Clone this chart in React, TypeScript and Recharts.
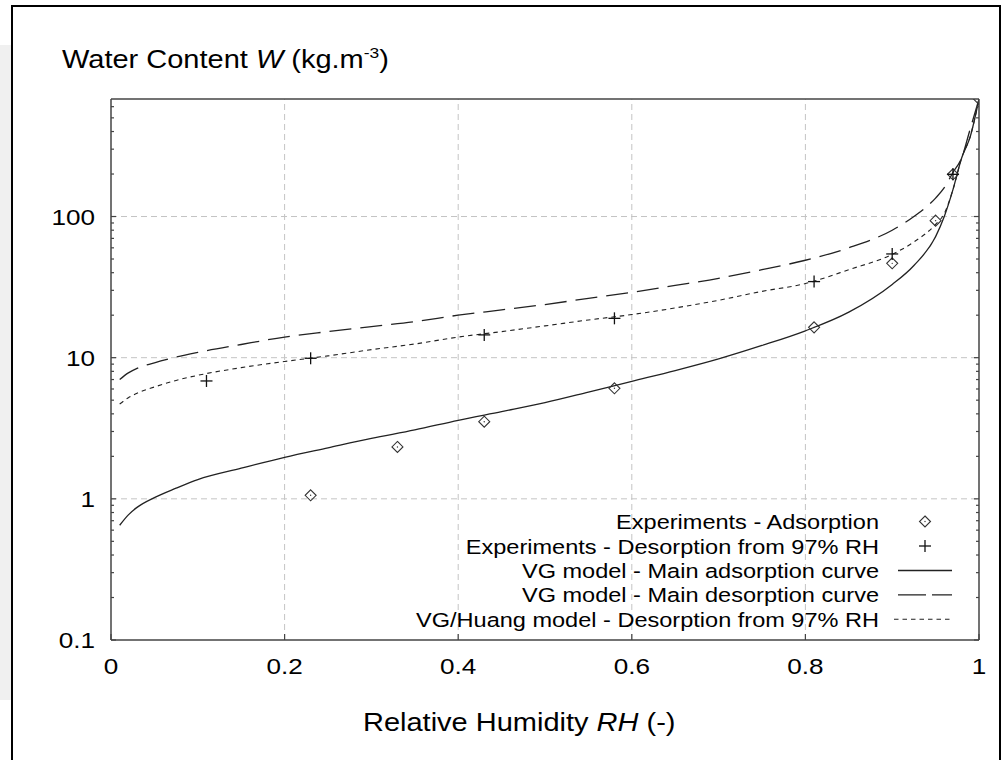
import React from "react";
import {
  ComposedChart,
  Line,
  Scatter,
  XAxis,
  YAxis,
  ReferenceLine,
} from "recharts";

// RH grid used by the three model curves
const curveRH = [
  0.01, 0.02, 0.03, 0.05, 0.075, 0.1, 0.15, 0.2, 0.25, 0.3, 0.35, 0.4, 0.45,
  0.5, 0.55, 0.6, 0.65, 0.7, 0.75, 0.8, 0.85, 0.9, 0.925, 0.95, 0.96, 0.97,
  0.98, 0.99, 1.0,
];
// VG model - main adsorption curve
const adsorptionModel = [
  0.65, 0.77, 0.87, 1.02, 1.19, 1.37, 1.65, 1.97, 2.3, 2.68, 3.08, 3.6, 4.15,
  4.8, 5.7, 6.8, 8.1, 9.8, 12.2, 15.5, 21, 33, 45, 72, 100, 155, 260, 370, 680,
];
// VG model - main desorption curve
const desorptionModel = [
  7.0, 7.8, 8.4, 9.2, 10.1, 10.9, 12.4, 14.0, 15.3, 16.6, 18.0, 20.0, 21.8,
  23.8, 26.3, 29, 32.5, 36.5, 42, 49, 60, 80, 100, 135, 160, 205, 260, 420, 680,
];
// VG/Huang model - desorption from 97% RH
const huangModel = [
  4.7, 5.2, 5.6, 6.2, 6.9, 7.5, 8.5, 9.4, 10.3, 11.4, 12.5, 14.0, 15.3, 16.8,
  18.5, 20.2, 22.5, 25.5, 29.5, 33.5, 42, 54, 66, 88, 105, 155, 260, 370, 680,
];

// experiments
const adsorptionRH = [0.23, 0.33, 0.43, 0.58, 0.81, 0.9, 0.95, 0.97, 1.0];
const adsorptionW = [1.06, 2.33, 3.52, 6.07, 16.4, 46.6, 93.5, 199, 680];
const desorptionRH = [0.11, 0.23, 0.43, 0.58, 0.81, 0.9, 0.97];
const desorptionW = [6.84, 9.9, 14.5, 19.0, 34.6, 54.3, 199];

const xTicks = [0, 0.2, 0.4, 0.6, 0.8, 1];
const xGrid = [0.2, 0.4, 0.6, 0.8];
const yLabels = [0.1, 1, 10, 100];
const yGrid = [1, 10, 100];
const yTicks = [
  0.1, 0.2, 0.3, 0.4, 0.5, 0.6, 0.7, 0.8, 0.9, 1, 2, 3, 4, 5, 6, 7, 8, 9, 10,
  20, 30, 40, 50, 60, 70, 80, 90, 100, 200, 300, 400, 500, 600,
];

const legendNames = [
  "Experiments - Adsorption",
  "Experiments - Desorption from 97% RH",
  "VG model - Main adsorption curve",
  "VG model - Main desorption curve",
  "VG/Huang model - Desorption from 97% RH",
];

const toPoints = (xs: number[], ys: number[]) =>
  xs.map((x, i) => ({ x, y: ys[i] }));

const FONT = "'Liberation Sans', Arial, Helvetica, sans-serif";
const STRETCH = 1.16;
const INK = "#222";
const AXIS = "#444";
const Y_GAP = 16;
const X_GAP = 34;
const TICK_FONT = 22.5;

function LeftTick(props: any) {
  const { x, y, payload } = props;
  const v = payload.value;
  const big = yLabels.includes(v);
  const ax = x + Y_GAP;
  return (
    <g>
      <line x1={ax} x2={ax + (big ? 5 : 3)} y1={y} y2={y} stroke={AXIS} strokeWidth={1.2} />
      {big && (
        <text
          transform={`translate(${x},${y}) scale(${STRETCH},1)`}
          textAnchor="end"
          dy="0.36em"
          fontSize={TICK_FONT}
          fontFamily={FONT}
          fill="#000"
        >
          {String(v)}
        </text>
      )}
    </g>
  );
}

function RightTick(props: any) {
  const { x, y, payload } = props;
  const big = yLabels.includes(payload.value);
  return (
    <line x1={x} x2={x - (big ? 5 : 3)} y1={y} y2={y} stroke={AXIS} strokeWidth={1.2} />
  );
}

function BottomTick(props: any) {
  const { x, y, payload } = props;
  const ay = y - X_GAP;
  return (
    <g>
      <line x1={x} x2={x} y1={ay} y2={ay - 6} stroke={AXIS} strokeWidth={1.2} />
      <text
        transform={`translate(${x},${y}) scale(${STRETCH},1)`}
        textAnchor="middle"
        fontSize={TICK_FONT}
        fontFamily={FONT}
        fill="#000"
      >
        {String(payload.value)}
      </text>
    </g>
  );
}

function TopTick(props: any) {
  const { x, y } = props;
  return <line x1={x} x2={x} y1={y} y2={y + 4} stroke={AXIS} strokeWidth={1.2} />;
}

function Diamond(props: any) {
  const { cx, cy } = props;
  const r = 5.5;
  return (
    <g>
      <polygon
        points={`${cx},${cy - r} ${cx + r},${cy} ${cx},${cy + r} ${cx - r},${cy}`}
        fill="none"
        stroke="#333"
        strokeWidth={1.1}
      />
      <circle cx={cx} cy={cy} r={0.7} fill="#333" />
    </g>
  );
}

function Plus(props: any) {
  const { cx, cy } = props;
  const r = 6;
  return (
    <g stroke="#111" strokeWidth={1.3}>
      <line x1={cx - r} x2={cx + r} y1={cy} y2={cy} />
      <line x1={cx} x2={cx} y1={cy - r} y2={cy + r} />
    </g>
  );
}

function LegendBox() {
  const textRight = 879;
  const baselines = [529, 553.5, 578, 602.4, 626.8];
  const sx = 925;
  return (
    <g>
      {legendNames.map((name, i) => {
        const b = baselines[i];
        const cy = b - 7.5;
        return (
          <g key={name}>
            <text
              transform={`translate(${textRight},${b}) scale(${STRETCH},1)`}
              textAnchor="end"
              fontSize={20.3}
              fontFamily={FONT}
              fill="#000"
            >
              {name}
            </text>
            {i === 0 && <Diamond cx={sx} cy={cy} />}
            {i === 1 && <Plus cx={sx} cy={cy} />}
            {i === 2 && <line x1={898} x2={952} y1={cy} y2={cy} stroke={INK} strokeWidth={1.3} />}
            {i === 3 && (
              <line x1={898} x2={952} y1={cy} y2={cy} stroke={INK} strokeWidth={1.3} strokeDasharray="28 6" />
            )}
            {i === 4 && (
              <line x1={894} x2={953} y1={cy} y2={cy} stroke={INK} strokeWidth={1.1} strokeDasharray="4.5 4" />
            )}
          </g>
        );
      })}
    </g>
  );
}

export default function App() {
  const adsCurve = toPoints(curveRH, adsorptionModel);
  const desCurve = toPoints(curveRH, desorptionModel);
  const huangCurve = toPoints(curveRH, huangModel);
  const adsPts = toPoints(adsorptionRH, adsorptionW);
  const desPts = toPoints(desorptionRH, desorptionW);

  return (
    <div
      style={{
        position: "absolute",
        left: 0,
        top: 0,
        width: 1002,
        height: 760,
        overflow: "hidden",
        background: "#fff",
      }}
    >
      <div style={{ position: "absolute", left: 0, top: 45, width: 12, height: 655, background: "#f0f0f0" }} />
      <div
        style={{
          position: "absolute",
          left: 11,
          top: 5,
          width: 986,
          height: 800,
          border: "2px solid #000",
        }}
      />
      <div style={{ position: "absolute", left: 0, top: 0 }}>
        <ComposedChart
          width={1002}
          height={760}
          margin={{ top: 98, right: 22, bottom: 90, left: 51 }}
        >
          <XAxis
            dataKey="x"
            type="number"
            domain={[0, 1]}
            ticks={xTicks}
            interval={0}
            allowDataOverflow
            height={30}
            tickSize={0}
            tickMargin={X_GAP}
            tick={BottomTick}
            axisLine={{ stroke: AXIS, strokeWidth: 1.5 }}
          />
          <XAxis
            xAxisId="top"
            orientation="top"
            type="number"
            domain={[0, 1]}
            ticks={xTicks}
            interval={0}
            allowDataOverflow
            height={1}
            tickSize={0}
            tickMargin={0}
            tick={TopTick}
            axisLine={{ stroke: AXIS, strokeWidth: 1.5 }}
          />
          <YAxis
            type="number"
            scale="log"
            domain={[0.1, 680]}
            ticks={yTicks}
            interval={0}
            allowDataOverflow
            width={60}
            tickSize={0}
            tickMargin={Y_GAP}
            tick={LeftTick}
            axisLine={{ stroke: AXIS, strokeWidth: 1.5 }}
          />
          <YAxis
            yAxisId="r"
            orientation="right"
            type="number"
            scale="log"
            domain={[0.1, 680]}
            ticks={yTicks}
            interval={0}
            allowDataOverflow
            width={1}
            tickSize={0}
            tickMargin={0}
            tick={RightTick}
            axisLine={{ stroke: AXIS, strokeWidth: 1.5 }}
          />

          {xGrid.map((v) => (
            <ReferenceLine key={`gx${v}`} x={v} stroke="#c4c4c4" strokeDasharray="6 4" />
          ))}
          {yGrid.map((v) => (
            <ReferenceLine key={`gy${v}`} y={v} stroke="#c4c4c4" strokeDasharray="6 4" />
          ))}

          <Line
            data={adsCurve}
            dataKey="y"
            type="monotone"
            stroke={INK}
            strokeWidth={1.3}
            dot={false}
            activeDot={false}
            isAnimationActive={false}
          />
          <Line
            data={desCurve}
            dataKey="y"
            type="monotone"
            stroke={INK}
            strokeWidth={1.3}
            strokeDasharray="22 9"
            dot={false}
            activeDot={false}
            isAnimationActive={false}
          />
          <Line
            data={huangCurve}
            dataKey="y"
            type="monotone"
            stroke={INK}
            strokeWidth={1.1}
            strokeDasharray="4.5 4"
            dot={false}
            activeDot={false}
            isAnimationActive={false}
          />
          <Scatter data={adsPts} dataKey="y" shape={Diamond} isAnimationActive={false} />
          <Scatter data={desPts} dataKey="y" shape={Plus} isAnimationActive={false} />
        </ComposedChart>
      </div>
      <svg
        width={1002}
        height={760}
        style={{ position: "absolute", left: 0, top: 0, pointerEvents: "none" }}
      >
        <text
          transform={`translate(62,68) scale(${STRETCH},1)`}
          fontSize={25}
          fontFamily={FONT}
          fill="#000"
        >
          {"Water Content "}
          <tspan fontStyle="italic">W</tspan>
          {" (kg.m"}
          <tspan dy={-10} fontSize={15}>
            -3
          </tspan>
          <tspan dy={10}>)</tspan>
        </text>
        <text
          transform={`translate(363,731) scale(${STRETCH},1)`}
          fontSize={25}
          fontFamily={FONT}
          fill="#000"
        >
          {"Relative Humidity "}
          <tspan fontStyle="italic">RH</tspan>
          {" (-)"}
        </text>
        <LegendBox />
      </svg>
    </div>
  );
}
